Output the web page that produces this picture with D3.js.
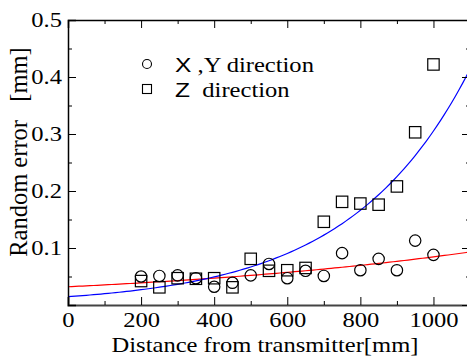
<!DOCTYPE html>
<html lang="en">

<head>
    <meta charset="UTF-8">
    <title>Random error vs distance</title>
    <style>
        body { margin: 0; background: #fff; }
        text { font-family: "Liberation Serif", "DejaVu Serif", serif; fill: #000; }
    </style>
</head>

<body>

    <svg id="chart"></svg>

    <script src="https://cdn.jsdelivr.net/npm/d3@7"></script>

    <script>

        var distances = [200, 250, 300, 350, 400, 450, 500, 550, 600, 650, 700, 750, 800, 850, 900, 950, 1000];
        var xyError = [0.050, 0.051, 0.052, 0.047, 0.032, 0.039, 0.052, 0.072, 0.047, 0.060, 0.051, 0.091, 0.061, 0.081, 0.061, 0.113, 0.088];
        var zError = [0.042, 0.031, 0.047, 0.046, 0.047, 0.031, 0.081, 0.060, 0.061, 0.065, 0.146, 0.181, 0.178, 0.176, 0.208, 0.303, 0.422];

        // exponential fits y = a * exp(b * x)
        var xyFit = { a: 0.032, b: 0.00097 };
        var zFit = { a: 0.0146, b: 0.00304 };

        var xTicks = [0, 200, 400, 600, 800, 1000];
        var yTicks = [0.1, 0.2, 0.3, 0.4, 0.5];

        // the original text is drawn a bit wide
        var stretch = 1.17;

        var margin = { top: 20, right: -3, bottom: 53, left: 68 },
            width = 467 - margin.left - margin.right,
            height = 358 - margin.top - margin.bottom;

        var svg = d3.select("#chart")
            .attr("width", 467)
            .attr("height", 358);

        var g = svg.append("g")
            .attr("transform", "translate(" + margin.left + "," + margin.top + ")");

        var x = d3.scaleLinear().domain([0, 1100]).range([0, width]);
        var y = d3.scaleLinear().domain([0, 0.5]).range([height, 0]);

        svg.append("defs").append("clipPath")
            .attr("id", "plotClip")
            .append("rect")
            .attr("width", width)
            .attr("height", height);

        // fitted curves
        var fitSamples = d3.range(0, 1101, 10);
        var line = d3.line()
            .x(d => x(d[0]))
            .y(d => y(d[1]));

        g.append("path")
            .datum(fitSamples.map(v => [v, xyFit.a * Math.exp(xyFit.b * v)]))
            .attr("clip-path", "url(#plotClip)")
            .attr("fill", "none")
            .attr("stroke", "#ff0000")
            .attr("stroke-width", 1.2)
            .attr("d", line);

        g.append("path")
            .datum(fitSamples.map(v => [v, zFit.a * Math.exp(zFit.b * v)]))
            .attr("clip-path", "url(#plotClip)")
            .attr("fill", "none")
            .attr("stroke", "#0000ff")
            .attr("stroke-width", 1.2)
            .attr("d", line);

        // markers
        g.selectAll(".xy")
            .data(distances)
            .enter()
            .append("circle")
            .attr("class", "xy")
            .attr("cx", d => x(d))
            .attr("cy", (d, i) => y(xyError[i]))
            .attr("r", 5.7)
            .attr("fill", "none")
            .attr("stroke", "#000")
            .attr("stroke-width", 1.2);

        g.selectAll(".z")
            .data(distances)
            .enter()
            .append("rect")
            .attr("class", "z")
            .attr("x", d => x(d) - 5.7)
            .attr("y", (d, i) => y(zError[i]) - 5.7)
            .attr("width", 11.4)
            .attr("height", 11.4)
            .attr("fill", "none")
            .attr("stroke", "#000")
            .attr("stroke-width", 1.2);

        // axes, ticks pointing inward on all four sides
        var xMinor = d3.range(100, 1100, 200);
        var yMinor = d3.range(0.05, 0.5, 0.1);

        var xAxis = g.append("g")
            .attr("transform", "translate(0," + height + ")")
            .call(d3.axisBottom(x).tickValues(xTicks).tickSize(-8).tickPadding(7).tickFormat(d3.format("d")))
            .call(a => a.select(".domain").attr("stroke", "#444").attr("stroke-width", 2));

        g.append("g")
            .attr("transform", "translate(0," + height + ")")
            .call(d3.axisBottom(x).tickValues(xMinor).tickSize(-4).tickFormat(""))
            .call(a => a.select(".domain").remove());

        g.append("g")
            .call(d3.axisTop(x).tickValues(xTicks).tickSize(-8).tickFormat(""))
            .call(a => a.select(".domain").attr("stroke-width", 1.5));

        g.append("g")
            .call(d3.axisTop(x).tickValues(xMinor).tickSize(-4).tickFormat(""))
            .call(a => a.select(".domain").remove());

        var yAxis = g.append("g")
            .call(d3.axisLeft(y).tickValues([0].concat(yTicks)).tickSize(-8).tickPadding(6).tickFormat(d => d === 0 ? "" : d3.format(".1f")(d)))
            .call(a => a.select(".domain").attr("stroke-width", 1.5));

        g.append("g")
            .call(d3.axisLeft(y).tickValues(yMinor).tickSize(-4).tickFormat(""))
            .call(a => a.select(".domain").remove());

        g.append("g")
            .attr("transform", "translate(" + width + ",0)")
            .call(d3.axisRight(y).tickValues(yTicks).tickSize(-8).tickFormat(""));

        g.append("g")
            .attr("transform", "translate(" + width + ",0)")
            .call(d3.axisRight(y).tickValues(yMinor).tickSize(-4).tickFormat(""))
            .call(a => a.select(".domain").remove());

        xAxis.selectAll(".tick text")
            .style("font-family", "Liberation Serif")
            .style("font-size", "21px")
            .attr("fill", "#000")
            .attr("transform", "scale(" + stretch + ",1)");

        yAxis.selectAll(".tick text")
            .style("font-family", "Liberation Serif")
            .style("font-size", "21px")
            .attr("fill", "#000")
            .attr("x", -6 / stretch)
            .attr("transform", "scale(" + stretch + ",1)");

        // axis titles
        svg.append("text")
            .attr("transform", "translate(" + (margin.left + x(550) - 4) + ",352) scale(" + stretch + ",1)")
            .attr("text-anchor", "middle")
            .style("font-size", "21px")
            .text("Distance from transmitter[mm]");

        svg.append("text")
            .attr("transform", "translate(27,152) rotate(-90)")
            .attr("text-anchor", "middle")
            .style("font-size", "24.5px")
            .attr("xml:space", "preserve")
            .text("Random error   [mm]");

        // legend
        var legend = svg.append("g").attr("id", "legend");

        legend.append("circle")
            .attr("cx", 147).attr("cy", 64).attr("r", 4.5)
            .attr("fill", "none").attr("stroke", "#000").attr("stroke-width", 1.1);

        legend.append("rect")
            .attr("x", 142.5).attr("y", 84.5).attr("width", 9).attr("height", 9)
            .attr("fill", "none").attr("stroke", "#000").attr("stroke-width", 1.1);

        var t1 = legend.append("text")
            .attr("transform", "translate(175,72) scale(" + stretch + ",1)")
            .style("font-size", "21px")
            .attr("xml:space", "preserve");
        t1.append("tspan").style("font-family", "Liberation Sans").text("X");
        t1.append("tspan").text(" ,Y direction");

        var t2 = legend.append("text")
            .attr("transform", "translate(175,97) scale(" + stretch + ",1)")
            .style("font-size", "21px")
            .attr("xml:space", "preserve");
        t2.append("tspan").style("font-family", "Liberation Sans").text("Z");
        t2.append("tspan").text("  direction");

    </script>

</body>

</html>
